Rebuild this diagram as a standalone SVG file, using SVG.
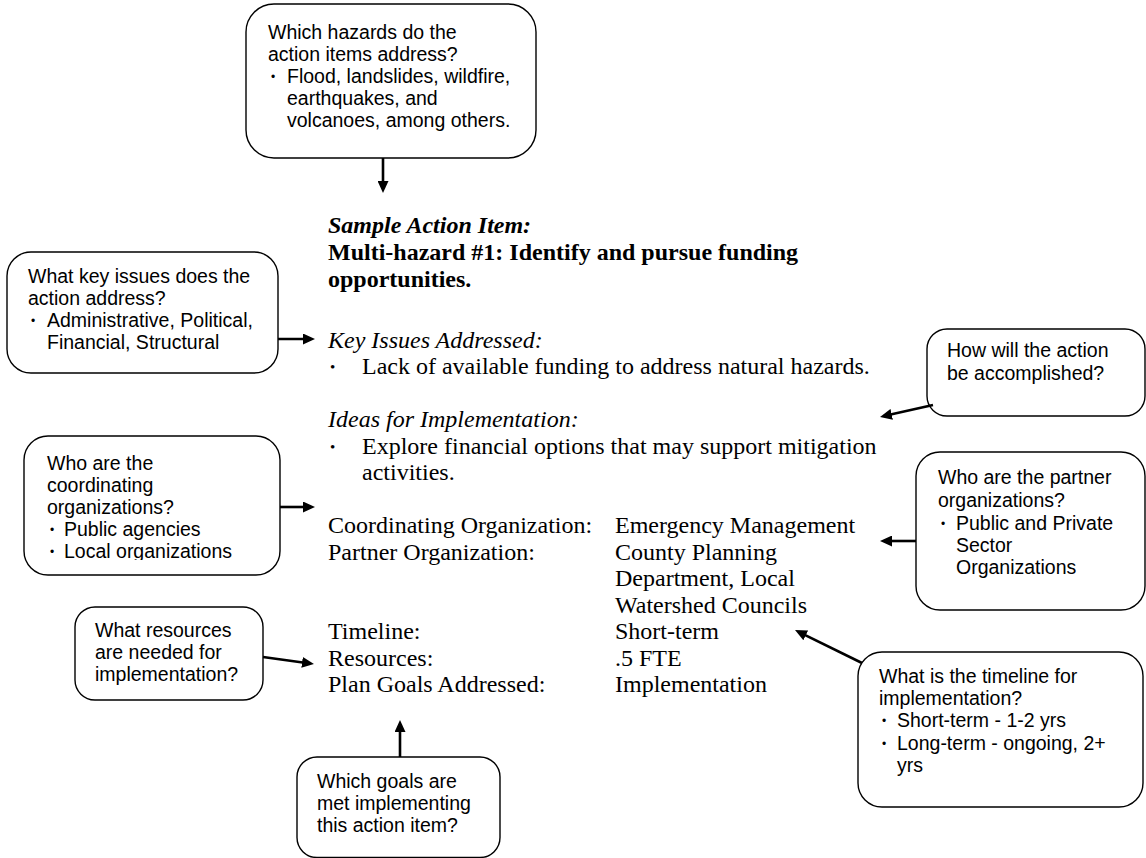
<svg xmlns="http://www.w3.org/2000/svg" width="1146" height="858" viewBox="0 0 1146 858">
<style>
.box{fill:#fff;stroke:#000;stroke-width:1.4}
.a{font-family:"Liberation Sans",Arial,sans-serif;font-size:19.5px;fill:#000}
.b{font-family:"Liberation Sans",Arial,sans-serif;font-size:12px;fill:#000}
.s{font-family:"Liberation Serif","Times New Roman",serif;font-size:24px;fill:#000}
.sb{font-family:"Liberation Serif","Times New Roman",serif;font-size:15px;fill:#000}
.conn line{stroke:#000;stroke-width:2.6;marker-end:url(#ah)}
</style>
<defs>
<marker id="ah" markerUnits="userSpaceOnUse" markerWidth="12" markerHeight="11" refX="8" refY="5.5" orient="auto">
<path d="M0,0 L12,5.5 L0,11 z" fill="#000"/>
</marker>
<clipPath id="clipCoord"><rect x="0" y="430" width="300" height="130"/></clipPath>
</defs>
<rect width="1146" height="858" fill="#fff"/>

<g id="hazards">
<rect class="box" x="246" y="4" width="290" height="154" rx="28"/>
<text class="a" x="268" y="39">Which hazards do the</text>
<text class="a" x="268" y="61">action items address?</text>
<text class="b" x="271" y="81">•</text>
<text class="a" x="287" y="83">Flood, landslides, wildfire,</text>
<text class="a" x="287" y="105">earthquakes, and</text>
<text class="a" x="287" y="127">volcanoes, among others.</text>
</g>

<g id="keyissues">
<rect class="box" x="7" y="252" width="271" height="121" rx="24"/>
<text class="a" x="28" y="283">What key issues does the</text>
<text class="a" x="28" y="305">action address?</text>
<text class="b" x="31" y="325">•</text>
<text class="a" x="47" y="327">Administrative, Political,</text>
<text class="a" x="47" y="349">Financial, Structural</text>
</g>

<g id="coordinating">
<rect class="box" x="24" y="436" width="256" height="139" rx="24"/>
<g clip-path="url(#clipCoord)">
<text class="a" x="47" y="470">Who are the</text>
<text class="a" x="47" y="492">coordinating</text>
<text class="a" x="47" y="514">organizations?</text>
<text class="b" x="50" y="534">•</text>
<text class="a" x="64" y="536">Public agencies</text>
<text class="b" x="50" y="556">•</text>
<text class="a" x="64" y="558">Local organizations</text>
</g>
</g>

<g id="resources">
<rect class="box" x="75" y="607" width="188" height="93" rx="20"/>
<text class="a" x="95" y="637">What resources</text>
<text class="a" x="95" y="659">are needed for</text>
<text class="a" x="95" y="681">implementation?</text>
</g>

<g id="goals">
<rect class="box" x="297" y="757" width="203" height="100.5" rx="20"/>
<text class="a" x="317" y="788">Which goals are</text>
<text class="a" x="317" y="810">met implementing</text>
<text class="a" x="317" y="832">this action item?</text>
</g>

<g id="howwill">
<rect class="box" x="927" y="329" width="218" height="87" rx="20"/>
<text class="a" x="947" y="357">How will the action</text>
<text class="a" x="947" y="380">be accomplished?</text>
</g>

<g id="partner">
<rect class="box" x="916" y="452" width="229" height="158" rx="24"/>
<text class="a" x="938" y="484">Who are the partner</text>
<text class="a" x="938" y="507">organizations?</text>
<text class="b" x="941" y="528">•</text>
<text class="a" x="956" y="530">Public and Private</text>
<text class="a" x="956" y="552">Sector</text>
<text class="a" x="956" y="574">Organizations</text>
</g>

<g id="timeline">
<rect class="box" x="858" y="652" width="285" height="155" rx="24"/>
<text class="a" x="879" y="683">What is the timeline for</text>
<text class="a" x="879" y="705">implementation?</text>
<text class="b" x="882" y="725">•</text>
<text class="a" x="897" y="727">Short-term - 1-2 yrs</text>
<text class="b" x="882" y="748">•</text>
<text class="a" x="897" y="750">Long-term - ongoing, 2+</text>
<text class="a" x="897" y="772">yrs</text>
</g>

<g id="actionitem">
<text class="s" x="328" y="233" font-weight="bold" font-style="italic">Sample Action Item:</text>
<text class="s" x="328" y="260" font-weight="bold">Multi-hazard #1: Identify and pursue funding</text>
<text class="s" x="328" y="287" font-weight="bold">opportunities.</text>
<text class="s" x="328" y="348" font-style="italic">Key Issues Addressed:</text>
<text class="sb" x="330" y="372">•</text>
<text class="s" x="362" y="374">Lack of available funding to address natural hazards.</text>
<text class="s" x="328" y="427" font-style="italic">Ideas for Implementation:</text>
<text class="sb" x="330" y="452">•</text>
<text class="s" x="362" y="454">Explore financial options that may support mitigation</text>
<text class="s" x="362" y="480">activities.</text>
<text class="s" x="328" y="533">Coordinating Organization:</text>
<text class="s" x="615" y="533">Emergency Management</text>
<text class="s" x="328" y="560">Partner Organization:</text>
<text class="s" x="615" y="560">County Planning</text>
<text class="s" x="615" y="586">Department, Local</text>
<text class="s" x="615" y="613">Watershed Councils</text>
<text class="s" x="328" y="639">Timeline:</text>
<text class="s" x="615" y="639">Short-term</text>
<text class="s" x="328" y="666">Resources:</text>
<text class="s" x="615" y="666">.5 FTE</text>
<text class="s" x="328" y="692">Plan Goals Addressed:</text>
<text class="s" x="615" y="692">Implementation</text>
</g>

<g id="connectors" class="conn">
<line x1="383" y1="158" x2="383" y2="189"/>
<line x1="278" y1="339" x2="311" y2="339"/>
<line x1="280" y1="507" x2="311" y2="507"/>
<line x1="263" y1="657" x2="310" y2="663.5"/>
<line x1="400" y1="757" x2="400" y2="724"/>
<line x1="933" y1="405" x2="883.9" y2="416.1"/>
<line x1="916" y1="541" x2="884" y2="541"/>
<line x1="862" y1="663" x2="798.6" y2="631.8"/>
</g>
</svg>
